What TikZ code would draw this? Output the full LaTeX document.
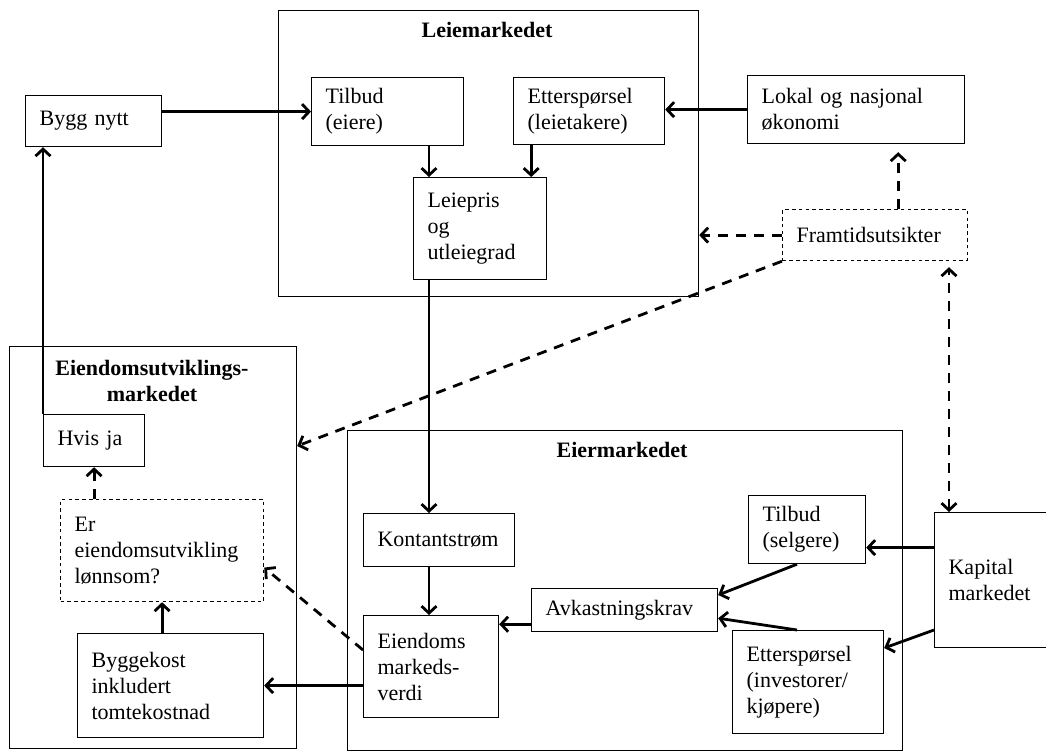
\documentclass[tikz,border=0pt]{standalone}
\usepackage{fontspec}
\setmainfont{Liberation Serif}
\usetikzlibrary{calc,arrows.meta,positioning}

\begin{document}
\begin{tikzpicture}[x=0.5pt,y=-0.5pt,
    >={Straight Barb[length=3.5pt,width=7.5pt]},
    boks/.style={draw,line width=0.6pt,align=left,anchor=north west,
        inner xsep=7pt,inner ysep=2pt,font=\fontsize{11}{13}\selectfont},
    stiplaboks/.style={dash pattern=on 1.8pt off 1.6pt},
    tittel/.style={font=\bfseries\fontsize{11}{13}\selectfont,align=center},
    pil/.style={line width=1.4pt,->},
    stiplapil/.style={pil,dash pattern=on 5pt off 4pt}]

\useasboundingbox (0,0) rectangle (1046,751);

\newcommand{\drawBoks}[7][]{
    \pgfmathsetmacro{\bBredde}{(#5-#3)/2-14}
    \pgfmathsetmacro{\bHoyde}{(#6-#4)/2}
    \node[boks,#1,text width=\bBredde pt,minimum height=\bHoyde pt] (#2) at (#3,#4) {#7};
}

% the three markets
\drawBoks{nLeie}{278}{10}{698}{296}{}
\drawBoks{nEutv}{9}{346}{296}{748}{}
\drawBoks{nEier}{347}{430}{902}{750}{}
\node[tittel] (tLeie) at (487,30) {Leiemarkedet};
\node[tittel] (tEutv) at (152,381) {Eiendomsutviklings-\\markedet};
\node[tittel] (tEier) at (622,450) {Eiermarkedet};

% boxes
\drawBoks{nByggNytt}{25}{95}{161}{146}{Bygg nytt}
\drawBoks{nTilbudEiere}{311}{77}{463}{145}{Tilbud\\(eiere)}
\drawBoks{nEtterspLeie}{513}{77}{664}{144}{Etterspørsel\\(leietakere)}
\drawBoks{nLokal}{747}{75}{964}{143}{Lokal og nasjonal\\økonomi}
\drawBoks{nLeiepris}{413}{177}{546}{279}{Leiepris\\og\\utleiegrad}
\drawBoks[stiplaboks]{nFramtid}{782}{209}{967}{260}{Framtidsutsikter}
\drawBoks{nHvisJa}{43}{414}{144}{466}{Hvis ja}
\drawBoks[stiplaboks]{nErLonnsom}{60}{499}{263}{601}{Er\\eiendomsutvikling\\lønnsom?}
\drawBoks{nByggekost}{77}{633}{263}{737}{Byggekost\\inkludert\\tomtekostnad}
\drawBoks{nKontant}{363}{513}{514}{566}{Kontantstrøm}
\drawBoks{nEiendoms}{363}{615}{498}{717}{Eiendoms\\markeds-\\verdi}
\drawBoks{nAvkast}{531}{588}{717}{631}{Avkastningskrav}
\drawBoks{nTilbudSelg}{748}{495}{865}{563}{Tilbud\\(selgere)}
\drawBoks{nEtterspInv}{732}{630}{883}{733}{Etterspørsel\\(investorer/\\kjøpere)}
\drawBoks{nKapital}{934}{512}{1052}{647}{Kapital\\markedet}

% solid arrows
\draw[pil] (nByggNytt.east |- nTilbudEiere.west) -- (nTilbudEiere.west);
\draw[pil] (nHvisJa.north west) -- (nHvisJa.north west |- nByggNytt.south);
\draw[pil] ([xshift=8pt]nLeiepris.north west |- nTilbudEiere.south) -- ([xshift=8pt]nLeiepris.north west);
\draw[pil] ([xshift=-8pt]nLeiepris.north east |- nEtterspLeie.south) -- ([xshift=-8pt]nLeiepris.north east);
\draw[pil] (nLokal.west) -- (nLokal.west -| nEtterspLeie.east);
\coordinate (cMidtLinje) at ([xshift=8pt]nLeiepris.south west);
\draw[pil] (cMidtLinje) -- (cMidtLinje |- nKontant.north);
\draw[pil] (cMidtLinje |- nKontant.south) -- (cMidtLinje |- nEiendoms.north);
\draw[pil] ([yshift=-9pt]nTilbudSelg.east -| nKapital.west) -- ([yshift=-9pt]nTilbudSelg.east);
\draw[pil] ([yshift=-59pt]nKapital.north west) -- ([yshift=-9pt]nEtterspInv.north east);
\draw[pil] ([xshift=24.5pt]nTilbudSelg.south west) -- ([yshift=-3.5pt]nAvkast.north east);
\draw[pil] ([xshift=32.5pt]nEtterspInv.north west) -- ([yshift=7pt]nAvkast.south east);
\draw[pil] ([yshift=4pt]nAvkast.south west) -- ([yshift=4pt]nAvkast.south west -| nEiendoms.east);
\draw[pil] (nByggekost.east -| nEiendoms.west) -- (nByggekost.east);
\draw[pil] (nErLonnsom.south |- nByggekost.north) -- (nErLonnsom.south);

% dashed arrows
\draw[stiplapil,shorten >=4pt] ([xshift=-35pt]nFramtid.north east) -- ([xshift=-35pt]nFramtid.north east |- nLokal.south);
\draw[stiplapil] (nFramtid.west) -- (nFramtid.west -| nLeie.east);
\draw[stiplapil] (nFramtid.south west) -- ([yshift=-50pt]nEutv.north east);
\draw[stiplapil,<->,shorten >=3pt] ([xshift=7.5pt]nKapital.north west) -- ([xshift=7.5pt]nKapital.north west |- nFramtid.south);
\draw[stiplapil] ([yshift=-17.5pt]nEiendoms.north west) -- ([yshift=-8.5pt]nErLonnsom.east);
\draw[stiplapil] (nHvisJa.south |- nErLonnsom.north) -- (nHvisJa.south);
\end{tikzpicture}
\end{document}
